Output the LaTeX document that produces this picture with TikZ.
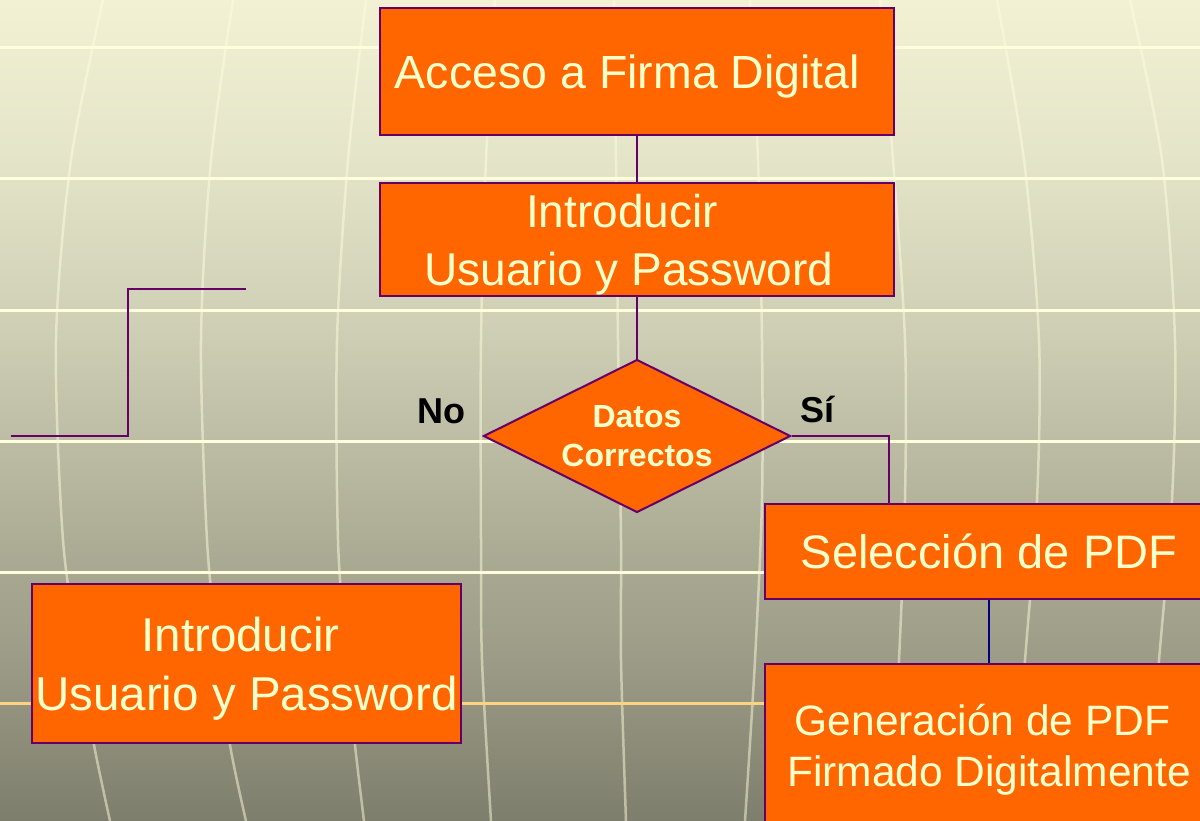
\documentclass[tikz,border=0pt]{standalone}
\usepackage{fontspec}
\setmainfont{Liberation Sans}
\usetikzlibrary{shapes.geometric}
\definecolor{boxfill}{HTML}{FF6600}
\definecolor{boxline}{HTML}{660066}
\definecolor{boxtext}{HTML}{FFFFCC}
\definecolor{navy}{HTML}{000080}
\definecolor{bgA}{RGB}{242,241,212}
\definecolor{bgB}{RGB}{228,228,200}
\definecolor{bgC}{RGB}{205,205,180}
\definecolor{bgD}{RGB}{173,173,150}
\definecolor{bgE}{RGB}{155,155,135}
\definecolor{bgF}{RGB}{126,126,108}
\definecolor{gridline}{RGB}{255,253,220}
\definecolor{gridorange}{RGB}{255,210,128}
\begin{document}
\begin{tikzpicture}[x=1pt,y=-1pt,
  flowbox/.style={draw=boxline, line width=2pt, fill=boxfill, text=boxtext, inner sep=0pt, align=center},
  conn/.style={draw=boxline, line width=2pt},
  vline/.style={draw=gridline, line width=2.5pt, opacity=0.5},
  hline/.style={draw=gridline, line width=3pt}]
\useasboundingbox (0,0) rectangle (1200,821);
% background gradient
\shade[top color=bgA, bottom color=bgB] (0,0) rectangle (1200,161);
\shade[top color=bgB, bottom color=bgC] (0,160) rectangle (1200,341);
\shade[top color=bgC, bottom color=bgD] (0,340) rectangle (1200,541);
\shade[top color=bgD, bottom color=bgE] (0,540) rectangle (1200,661);
\shade[top color=bgE, bottom color=bgF] (0,660) rectangle (1200,821);
% curved vertical grid lines
\draw[vline] plot[smooth] coordinates {(103,0) (71,160) (56,340) (63,540) (80,660) (94,745) (110,821)};
\draw[vline] plot[smooth] coordinates {(233,0) (211,160) (201,340) (207,540) (218,650) (230,745) (246,821)};
\draw[vline] plot[smooth] coordinates {(366,0) (348,160) (337,340) (338,540) (346,650) (355,745) (364,821)};
\draw[vline] plot[smooth] coordinates {(495,0) (486,160) (481,340) (481,540) (482,660) (491,821)};
\draw[vline] plot[smooth] coordinates {(614,0) (616,160) (618,340) (621,540) (621,660) (626,821)};
\draw[vline] plot[smooth] coordinates {(750,0) (758,160) (762,340) (762,500) (755,660) (745,821)};
\draw[vline] plot[smooth] coordinates {(880,0) (893,160) (905,340) (905,500) (899,660) (890,821)};
\draw[vline] plot[smooth] coordinates {(997,0) (1024,160) (1039,340) (1037,500) (1025,660) (1012,821)};
\draw[vline] plot[smooth] coordinates {(1130,0) (1162,160) (1175,340) (1172,500) (1159,660) (1145,821)};
% horizontal grid lines
\foreach \yy in {48,179,310,441,572} \draw[hline] (0,\yy) -- (1200,\yy);
\draw[hline, draw=gridorange] (0,703) -- (1200,703);
% nodes
\node[flowbox, minimum width=514pt, minimum height=127pt, text depth=0pt, font=\fontsize{46.5}{56}\selectfont] (b1) at (637,71.5) {Acceso a Firma Digital\hspace*{19pt}};
\node[flowbox, minimum width=514pt, minimum height=113pt, text depth=0pt, font=\fontsize{46}{58}\selectfont] (b2) at (637,239.5) {Introducir\hspace*{30pt}\\Usuario y Password\hspace*{16pt}};
\node[draw=boxline, line width=2pt, fill=boxfill, text=boxtext, shape=diamond, aspect=2, minimum width=307pt, minimum height=153pt, inner sep=0pt, align=center, font=\bfseries\fontsize{32}{39}\selectfont] (d) at (637,436) {Datos\\Correctos};
\node[flowbox, minimum width=448pt, minimum height=95pt, font=\fontsize{47}{56}\selectfont] (sel) at (989,551.5) {Selección de PDF};
\node[flowbox, minimum width=448pt, minimum height=162pt, text depth=0pt, font=\fontsize{42.5}{51}\selectfont] (gen) at (989,745) {Generación de PDF\hspace*{13pt}\\Firmado Digitalmente};
\node[flowbox, minimum width=429pt, minimum height=159pt, text depth=0pt, font=\fontsize{47.5}{59}\selectfont] (b3) at (246.5,663.5) {Introducir\hspace*{12pt}\\Usuario y Password};
\node[font=\bfseries\fontsize{36}{43}\selectfont, anchor=base, inner sep=0pt] (no) at (441,423) {No};
\node[font=\bfseries\fontsize{36}{43}\selectfont, anchor=base, inner sep=0pt] (si) at (817.5,422) {Sí};
% connectors
\draw[conn] (b1.south) -- (b2.north);
\draw[conn] (b2.south) -- (d.north);
\draw[conn] (d.east) -| ([xshift=125pt]sel.north west);
\draw[draw=navy, line width=2pt] (sel.south) -- (gen.north);
\coordinate (n1) at (11,436);
\coordinate (nc) at (128,289);
\coordinate (n2) at (246,289);
\draw[conn] (n1) -| (nc) -- (n2);
\end{tikzpicture}
\end{document}
